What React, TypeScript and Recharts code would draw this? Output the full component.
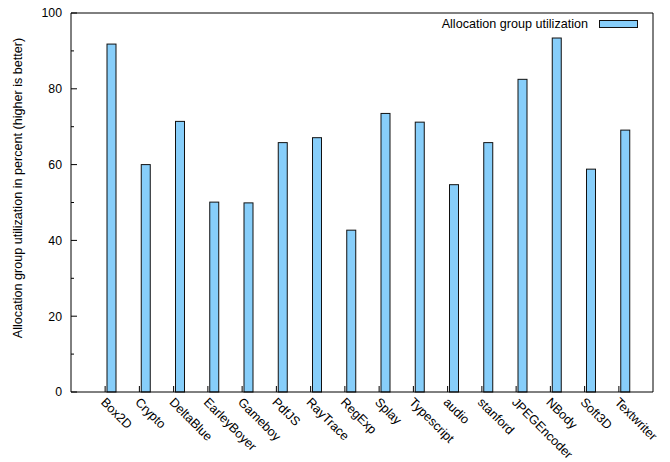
import { BarChart, Bar, XAxis, YAxis, ReferenceLine } from 'recharts'

// Per-benchmark allocation group utilization, in percent
const BENCHMARKS = [
  'Box2D', 'Crypto', 'DeltaBlue', 'EarleyBoyer', 'Gameboy', 'PdfJS', 'RayTrace', 'RegExp',
  'Splay', 'Typescript', 'audio', 'stanford', 'JPEGEncoder', 'NBody', 'Soft3D', 'Textwriter',
]
const UTILIZATION = [
  91.8, 60.0, 71.4, 50.1, 49.9, 65.8, 67.1, 42.7,
  73.5, 71.2, 54.7, 65.8, 82.5, 93.4, 58.8, 69.1,
]
const Y_TICKS = [0, 10, 20, 30, 40, 50, 60, 70, 80, 90, 100]
const Y_LABELED = [0, 20, 40, 60, 80, 100]

const SERIES_NAME = 'Allocation group utilization'
const Y_TITLE = 'Allocation group utilization in percent (higher is better)'

const FONT = '"Liberation Sans", Arial, Helvetica, sans-serif'
const BAR_FILL = '#87cefa'
const INK = '#000'

const data = BENCHMARKS.map((name, i) => ({ name, value: UTILIZATION[i] }))

// ── Ticks (gnuplot style: marks point into the plot) ─────────────────────────

function LeftTick({ x, y, payload }: any) {
  const major = Y_LABELED.includes(payload.value)
  return (
    <g>
      <line x1={x} y1={y} x2={x + (major ? 6 : 3)} y2={y} stroke={INK} />
      {major && (
        <text x={x - 9} y={y} dy={4.3} textAnchor="end" fontSize={12.3} fontFamily={FONT} fill={INK}>
          {payload.value}
        </text>
      )}
    </g>
  )
}

function RightTick({ x, y, payload }: any) {
  const len = Y_LABELED.includes(payload.value) ? 6 : 3
  return <line x1={x} y1={y} x2={x - len} y2={y} stroke={INK} />
}

function CategoryTick({ x, y, payload }: any) {
  const tx = x - 5
  const ty = y + 11
  return (
    <g>
      <line x1={x} y1={y} x2={x} y2={y - 6} stroke={INK} />
      <text
        x={tx}
        y={ty}
        transform={`rotate(45, ${tx}, ${ty})`}
        textAnchor="start"
        fontSize={12.6}
        fontFamily={FONT}
        fill={INK}
      >
        {payload.value}
      </text>
    </g>
  )
}

// bars sit just to the right of their category tick
function OffsetBar({ x, y, width, height }: any) {
  return (
    <rect x={x + 6} y={y} width={width} height={height} fill={BAR_FILL} stroke="#111" strokeWidth={1} />
  )
}

// ── Chart ─────────────────────────────────────────────────────────────────────

export default function App() {
  return (
    <div style={{ position: 'absolute', left: 0, top: 0, width: 670, height: 462, background: '#fff', fontFamily: FONT }}>
      <BarChart width={670} height={462} data={data} margin={{ top: 13, right: 0, bottom: 0, left: 0 }}>
        <XAxis
          dataKey="name"
          height={70}
          padding={{ left: 17, right: 17 }}
          interval={0}
          tickSize={0}
          tickMargin={0}
          axisLine={{ stroke: INK }}
          tick={<CategoryTick />}
        />
        <YAxis
          yAxisId="left"
          width={71}
          domain={[0, 100]}
          ticks={Y_TICKS}
          interval={0}
          tickSize={0}
          tickMargin={0}
          axisLine={{ stroke: INK }}
          tick={<LeftTick />}
        />
        <YAxis
          yAxisId="right"
          orientation="right"
          width={17}
          domain={[0, 100]}
          ticks={Y_TICKS}
          interval={0}
          tickSize={0}
          tickMargin={0}
          axisLine={{ stroke: INK }}
          tick={<RightTick />}
        />
        <ReferenceLine yAxisId="left" y={100} stroke={INK} ifOverflow="visible" />
        <Bar
          yAxisId="left"
          dataKey="value"
          name={SERIES_NAME}
          barSize={9}
          shape={<OffsetBar />}
          isAnimationActive={false}
        />
      </BarChart>

      <div
        style={{
          position: 'absolute',
          left: 18,
          top: 188,
          transform: 'translate(-50%, -50%) rotate(-90deg)',
          whiteSpace: 'nowrap',
          fontSize: 12.6,
          color: INK,
        }}
      >
        {Y_TITLE}
      </div>

      <div
        style={{
          position: 'absolute',
          right: 32,
          top: 16,
          display: 'flex',
          alignItems: 'center',
          gap: 11,
          fontSize: 12.6,
          color: INK,
          lineHeight: '16px',
        }}
      >
        <span>{SERIES_NAME}</span>
        <span style={{ display: 'inline-block', width: 37, height: 6, background: BAR_FILL, border: '1px solid #111' }} />
      </div>
    </div>
  )
}
